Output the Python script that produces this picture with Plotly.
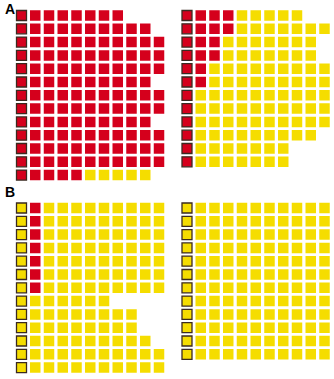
import plotly.graph_objects as go

# ---- data ----
# per panel: outlined (first column) square colour, then per row counts of red and yellow squares
panel_names = ["A_left", "A_right", "B_left", "B_right"]
A_left_parent = "red"
A_left_red = [7, 9, 10, 10, 10, 9, 10, 10, 9, 10, 10, 10, 4]
A_left_yellow = [0, 0, 0, 0, 0, 0, 0, 0, 0, 0, 0, 0, 5]

A_right_parent = "red"
A_right_red = [3, 3, 2, 2, 1, 1, 0, 0, 0, 0, 0, 0]
A_right_yellow = [5, 7, 7, 7, 9, 9, 10, 10, 10, 9, 7, 7]

B_left_parent = "yellow"
B_left_red = [1, 1, 1, 1, 1, 1, 1, 0, 0, 0, 0, 0, 0]
B_left_yellow = [9, 9, 9, 9, 9, 9, 9, 6, 8, 8, 9, 10, 10]

B_right_parent = "yellow"
B_right_red = [0] * 12
B_right_yellow = [10] * 12

panel_labels = ["A", "B"]

RED = "#D5001C"
YELLOW = "#F5DD00"
colors = {"red": RED, "yellow": YELLOW}

panels = [
    (A_left_parent, A_left_red, A_left_yellow),
    (A_right_parent, A_right_red, A_right_yellow),
    (B_left_parent, B_left_red, B_left_yellow),
    (B_right_parent, B_right_red, B_right_yellow),
]

W, H = 334, 379
px_col = 13.75
px_row = 13.3
ncols, nrows = 11, 13


def xdom(left_center):
    left = left_center - px_col / 2
    return [left / W, (left + ncols * px_col) / W]


def ydom(top_center):
    top = top_center - px_row / 2
    bottom = top + nrows * px_row
    return [1 - bottom / H, 1 - top / H]


domains = [
    (xdom(21.5), ydom(15.5)),
    (xdom(187.0), ydom(15.5)),
    (xdom(21.5), ydom(208.0)),
    (xdom(187.0), ydom(208.0)),
]

fig = go.Figure()
layout = {}
for i, ((parent, reds, yellows), (xd, yd)) in enumerate(zip(panels, domains)):
    ax = "" if i == 0 else str(i + 1)
    # parent (outlined) squares
    rows = list(range(len(reds)))
    fig.add_trace(go.Scatter(
        x=[0] * len(rows), y=rows, mode="markers",
        marker=dict(symbol="square", size=10, color=colors[parent],
                    line=dict(color="#3a2a20", width=1.3)),
        xaxis="x" + ax, yaxis="y" + ax, showlegend=False, hoverinfo="skip"))
    rx, ry, yx, yy = [], [], [], []
    for r, (nr, ny) in enumerate(zip(reds, yellows)):
        for c in range(nr):
            rx.append(1 + c); ry.append(r)
        for c in range(ny):
            yx.append(1 + nr + c); yy.append(r)
    fig.add_trace(go.Scatter(
        x=rx, y=ry, mode="markers",
        marker=dict(symbol="square", size=10.5, color=RED, line=dict(width=0)),
        xaxis="x" + ax, yaxis="y" + ax, showlegend=False, hoverinfo="skip"))
    fig.add_trace(go.Scatter(
        x=yx, y=yy, mode="markers",
        marker=dict(symbol="square", size=10.5, color=YELLOW, line=dict(width=0)),
        xaxis="x" + ax, yaxis="y" + ax, showlegend=False, hoverinfo="skip"))
    layout["xaxis" + ax] = dict(domain=xd, range=[-0.5, ncols - 0.5], visible=False,
                                anchor="y" + ax, fixedrange=True)
    layout["yaxis" + ax] = dict(domain=yd, range=[nrows - 0.5, -0.5], visible=False,
                                anchor="x" + ax, fixedrange=True)

fig.update_layout(**layout)
fig.update_layout(
    width=W, height=H, margin=dict(l=0, r=0, t=0, b=0),
    paper_bgcolor="white", plot_bgcolor="white",
    annotations=[
        dict(text="<b>A</b>", x=3 / W, y=1 - 9 / H, xref="paper", yref="paper",
             xanchor="left", yanchor="middle", showarrow=False,
             font=dict(family="Liberation Sans, Arial", size=14, color="black")),
        dict(text="<b>B</b>", x=3 / W, y=1 - 192 / H, xref="paper", yref="paper",
             xanchor="left", yanchor="middle", showarrow=False,
             font=dict(family="Liberation Sans, Arial", size=14, color="black")),
    ],
)
fig.write_html("out.html")
